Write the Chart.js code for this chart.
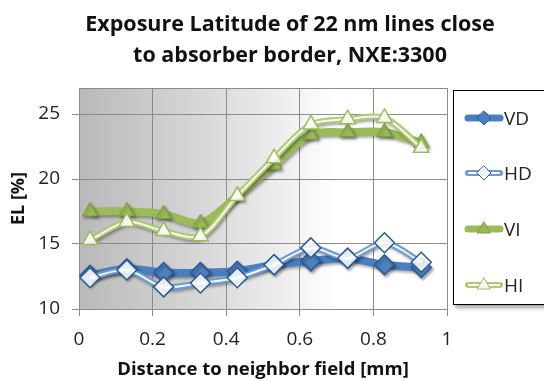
<!DOCTYPE html>
<html lang="en">
<head>
    <meta charset="UTF-8">
    <title>Exposure Latitude of 22 nm lines close to absorber border</title>
    <script src="https://cdn.jsdelivr.net/npm/chart.js"></script>
    <style>
        body {
            margin: 0;
            padding: 0;
            background: #fff;
            font-family: "Open Sans", sans-serif;
        }
        #wrap {
            position: relative;
            width: 544px;
            height: 381px;
            overflow: hidden;
        }
        #chartTitle {
            position: absolute;
            left: 60px;
            width: 460px;
            top: 7px;
            text-align: center;
            font-weight: bold;
            font-size: 21.5px;
            line-height: 31px;
            color: #111;
        }
        #legendBox {
            position: absolute;
            left: 453px;
            top: 90px;
            width: 120px;
            height: 213px;
            border: 1.5px solid #000;
            box-shadow: 2px 3px 4px rgba(0, 0, 0, 0.35);
            background: #fff;
        }
        .legendItem {
            position: absolute;
            left: 10px;
            height: 20px;
            display: flex;
            align-items: center;
            font-size: 19px;
            color: #222;
        }
        .legendItem canvas { margin-right: 0; }
    </style>
</head>
<body>
<div id="wrap">
    <canvas id="elChart" width="544" height="381"></canvas>
    <div id="chartTitle">Exposure Latitude of 22 nm lines close<br>to absorber border, NXE:3300</div>
    <div id="legendBox"></div>
</div>

<script>
    // distance to neighbor field [mm]
    const distances = [0.03, 0.13, 0.23, 0.33, 0.43, 0.53, 0.63, 0.73, 0.83, 0.93];

    // EL [%] per series
    const vdValues = [12.6, 13.1, 12.8, 12.8, 12.9, 13.4, 13.7, 13.9, 13.4, 13.2];
    const hdValues = [12.4, 13.0, 11.7, 12.0, 12.4, 13.4, 14.7, 13.9, 15.1, 13.6];
    const viValues = [17.5, 17.5, 17.3, 16.6, 18.7, 21.1, 23.4, 23.6, 23.6, 22.8];
    const hiValues = [15.3, 16.7, 16.0, 15.6, 18.7, 21.6, 24.2, 24.6, 24.7, 22.4];

    const seriesNames = ['VD', 'HD', 'VI', 'HI'];
    const yTicks = [10, 15, 20, 25];
    const xTicks = [0, 0.2, 0.4, 0.6, 0.8, 1];

    const blue = '#4a7ebf';
    const blueDark = '#2b5a94';
    const blueLight = '#6c9ad3';
    const green = '#9bbb59';
    const greenDark = '#7c9a3e';
    const greenLight = '#aecb75';

    const toPoints = ys => distances.map((x, i) => ({ x: x, y: ys[i] }));

    const datasets = [
        {   // VD - thick line, filled diamonds
            label: 'VD', data: toPoints(vdValues), order: 6, shadow: true,
            borderColor: blue, borderWidth: 8, tension: 0.3,
            pointStyle: 'rectRot', pointRadius: 10,
            pointBackgroundColor: '#4f81bd', pointBorderColor: blueDark, pointBorderWidth: 1.5
        },
        {   // HD - compound line base
            label: 'HD', data: toPoints(hdValues), order: 5, shadow: true,
            borderColor: blueLight, borderWidth: 6, tension: 0.3, pointRadius: 0
        },
        {   // HD - white core + hollow diamonds
            label: 'HD_core', data: toPoints(hdValues), order: 4,
            borderColor: 'rgba(255,255,255,0.9)', borderWidth: 2, tension: 0.3,
            pointStyle: 'rectRot', pointRadius: 10,
            pointBackgroundColor: 'rgba(255,255,255,0.85)', pointBorderColor: blueDark, pointBorderWidth: 1.5
        },
        {   // VI - thick line, filled triangles
            label: 'VI', data: toPoints(viValues), order: 3, shadow: true,
            borderColor: green, borderWidth: 8, tension: 0.3,
            pointStyle: 'triangle', pointRadius: 9,
            pointBackgroundColor: green, pointBorderColor: greenDark, pointBorderWidth: 1
        },
        {   // HI - compound line base
            label: 'HI', data: toPoints(hiValues), order: 2, shadow: true,
            borderColor: greenLight, borderWidth: 6, tension: 0.3, pointRadius: 0
        },
        {   // HI - white core + hollow triangles
            label: 'HI_core', data: toPoints(hiValues), order: 1,
            borderColor: 'rgba(255,255,255,0.9)', borderWidth: 2, tension: 0.3,
            pointStyle: 'triangle', pointRadius: 9,
            pointBackgroundColor: 'rgba(255,255,255,0.85)', pointBorderColor: green, pointBorderWidth: 1.5
        }
    ];

    // gray gradient plot background + top border
    const plotBackground = {
        id: 'plotBackground',
        beforeDraw(chart) {
            const { ctx, chartArea: a } = chart;
            ctx.save();
            const g = ctx.createLinearGradient(a.left, 0, a.left + a.width * 0.7, 0);
            g.addColorStop(0, '#b9b9b9');
            g.addColorStop(0.5, '#d9d9d9');
            g.addColorStop(0.85, '#f3f3f3');
            g.addColorStop(1, '#ffffff');
            ctx.fillStyle = g;
            ctx.fillRect(a.left, a.top, a.width, a.height);
            ctx.restore();
        },
        afterDraw(chart) {
            const { ctx, chartArea: a } = chart;
            ctx.save();
            ctx.strokeStyle = '#8c8c8c';
            ctx.lineWidth = 1;
            ctx.beginPath();
            ctx.moveTo(a.left, a.top + 0.5);
            ctx.lineTo(a.right, a.top + 0.5);
            ctx.stroke();
            ctx.restore();
        }
    };

    // soft drop shadow under the series, like the office chart
    const seriesShadow = {
        id: 'seriesShadow',
        beforeDatasetDraw(chart, args) {
            if (!chart.data.datasets[args.index].shadow) return;
            const ctx = chart.ctx;
            ctx.save();
            ctx.shadowColor = 'rgba(0,0,0,0.35)';
            ctx.shadowBlur = 3;
            ctx.shadowOffsetX = 1.5;
            ctx.shadowOffsetY = 2;
        },
        afterDatasetDraw(chart, args) {
            if (!chart.data.datasets[args.index].shadow) return;
            chart.ctx.restore();
        }
    };

    const gridColor = '#8c8c8c';

    const ctx = document.getElementById('elChart').getContext('2d');
    const elChart = new Chart(ctx, {
        type: 'line',
        data: { datasets: datasets },
        options: {
            responsive: false,
            animation: false,
            layout: { padding: { top: 88, right: 97, bottom: 0, left: 8 } },
            plugins: {
                legend: { display: false },
                tooltip: { enabled: false },
                title: { display: false }
            },
            scales: {
                x: {
                    type: 'linear', min: 0, max: 1,
                    afterFit: s => { s.height = 72; },
                    afterBuildTicks: s => { s.ticks = xTicks.map(v => ({ value: v })); },
                    grid: { color: gridColor, tickColor: gridColor, tickLength: 7 },
                    border: { color: gridColor },
                    ticks: {
                        padding: 12, color: '#222',
                        font: { family: 'Open Sans', size: 19 },
                        callback: v => String(Number(v.toFixed(1)))
                    },
                    title: {
                        display: true, text: 'Distance to neighbor field [mm]',
                        color: '#111', font: { family: 'Open Sans', size: 18.5, weight: 'bold' },
                        padding: { top: 0, bottom: 0 }
                    }
                },
                y: {
                    min: 10, max: 27,
                    afterFit: s => { s.width = 71; },
                    afterBuildTicks: s => { s.ticks = yTicks.map(v => ({ value: v })); },
                    grid: { color: gridColor, tickColor: gridColor, tickLength: 7 },
                    border: { color: gridColor },
                    ticks: {
                        padding: 12, color: '#222',
                        font: { family: 'Open Sans', size: 19 }
                    },
                    title: {
                        display: true, text: 'EL [%]',
                        color: '#111', font: { family: 'Open Sans', size: 18, weight: 'bold' },
                        padding: { top: 0, bottom: 0 }
                    }
                }
            }
        },
        plugins: [plotBackground, seriesShadow]
    });

    // legend symbols: short line with marker in the middle
    function drawSymbol(c, name) {
        const g = c.getContext('2d');
        const y = 10;
        const isBlue = name[1] === 'D';
        const hollow = name[0] === 'H';
        const main = isBlue ? blue : green;
        g.lineCap = 'round';
        if (hollow) {
            g.strokeStyle = isBlue ? blueLight : greenLight;
            g.lineWidth = 6;
            g.beginPath(); g.moveTo(4, y); g.lineTo(36, y); g.stroke();
            g.strokeStyle = '#fff';
            g.lineWidth = 2;
            g.beginPath(); g.moveTo(5, y); g.lineTo(35, y); g.stroke();
        } else {
            g.strokeStyle = main;
            g.lineWidth = 7;
            g.beginPath(); g.moveTo(4, y); g.lineTo(36, y); g.stroke();
        }
        g.beginPath();
        if (isBlue) {
            g.moveTo(20, y - 7); g.lineTo(27, y); g.lineTo(20, y + 7); g.lineTo(13, y);
        } else {
            g.moveTo(20, y - 7); g.lineTo(26.5, y + 4); g.lineTo(13.5, y + 4);
        }
        g.closePath();
        g.fillStyle = hollow ? 'rgba(255,255,255,0.85)' : main;
        g.fill();
        g.lineWidth = 1;
        g.strokeStyle = isBlue ? blueDark : (hollow ? green : greenDark);
        g.stroke();
    }

    const legendBox = document.getElementById('legendBox');
    const legendCenters = [27, 82, 138, 194];
    seriesNames.forEach((name, i) => {
        const item = document.createElement('div');
        item.className = 'legendItem';
        item.style.top = (legendCenters[i] - 10) + 'px';
        const c = document.createElement('canvas');
        c.width = 40; c.height = 20;
        drawSymbol(c, name);
        item.appendChild(c);
        const t = document.createElement('span');
        t.textContent = name;
        item.appendChild(t);
        legendBox.appendChild(item);
    });
</script>
</body>
</html>
